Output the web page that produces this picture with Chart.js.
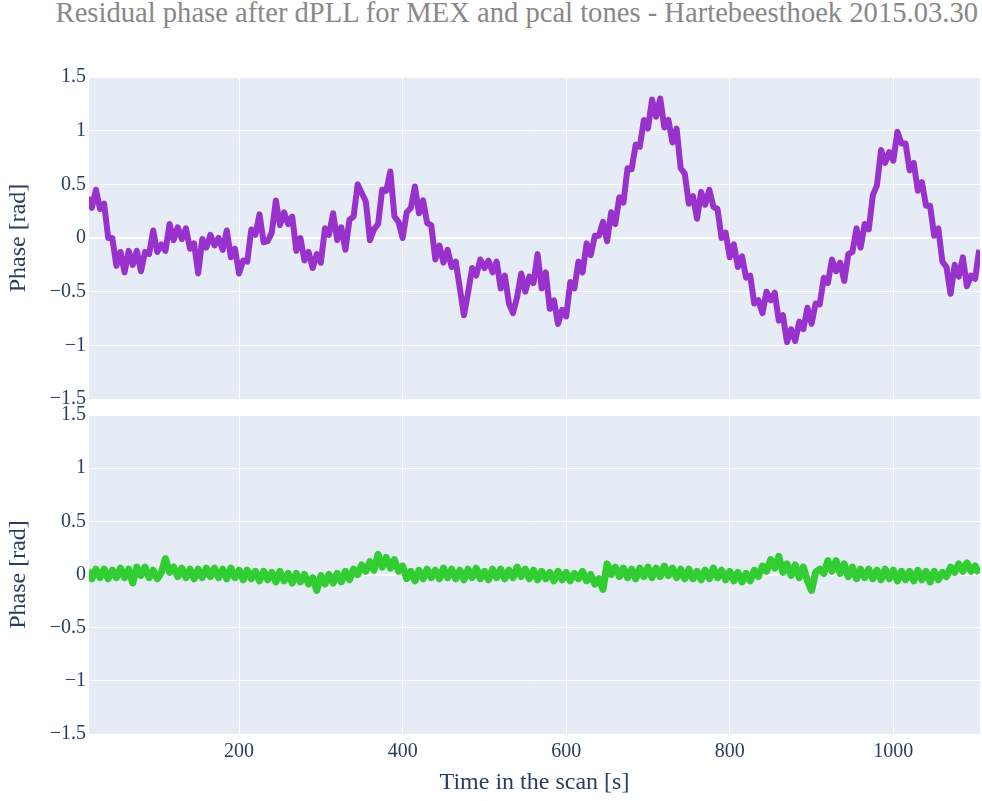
<!DOCTYPE html>
<html>
<head>
<meta charset="utf-8">
<title>Residual phase after dPLL</title>
<script src="https://cdn.jsdelivr.net/npm/chart.js@4.4.1/dist/chart.umd.min.js"></script>
<style>
  html, body { margin: 0; padding: 0; background: #ffffff; }
  body { width: 982px; height: 801px; position: relative; overflow: hidden; font-family: 'Liberation Serif', 'Times New Roman', serif; }
  #chart-title { position: absolute; top: -3px; right: 4px; font-size: 28.6px; line-height: 32px; color: #888888; white-space: nowrap; }
  .panel { position: absolute; left: 0; width: 982px; }
  #panel-top { top: 0; height: 420px; }
  #panel-bottom { top: 400px; height: 401px; }
</style>
</head>
<body>
<div id="chart-title">Residual phase after dPLL for MEX and pcal tones - Hartebeesthoek 2015.03.30</div>
<div class="panel" id="panel-top"><canvas id="chart-mex" width="982" height="420"></canvas></div>
<div class="panel" id="panel-bottom"><canvas id="chart-pcal" width="982" height="401"></canvas></div>
<script>
// sampling of the scan: first sample and spacing, seconds
const timeStart = 15;
const timeStep = 5;

// residual phase of the MEX tone [rad], one value every 5 s
const mexPhase = [
  0.38, 0.28, 0.45, 0.27, 0.32, 0.00, 0.00, -0.26, -0.13, -0.32,
  -0.12, -0.25, -0.12, -0.31, -0.13, -0.15, 0.07, -0.13, -0.06, -0.12,
  0.13, -0.02, 0.10, -0.01, 0.09, -0.10, -0.05, -0.33, -0.01, -0.09,
  0.03, -0.07, 0.00, -0.11, 0.07, -0.18, -0.10, -0.33, -0.21, -0.22,
  0.08, 0.03, 0.22, -0.04, -0.03, 0.05, 0.35, 0.12, 0.24, 0.13,
  0.20, -0.12, 0.00, -0.21, -0.13, -0.28, -0.15, -0.23, 0.09, 0.03,
  0.23, -0.02, 0.10, -0.11, 0.17, 0.20, 0.50, 0.42, 0.34, -0.02,
  0.08, 0.13, 0.45, 0.44, 0.62, 0.20, 0.15, 0.00, 0.24, 0.28,
  0.48, 0.23, 0.35, 0.14, 0.12, -0.20, -0.07, -0.23, -0.11, -0.27,
  -0.22, -0.47, -0.72, -0.51, -0.28, -0.35, -0.20, -0.28, -0.21, -0.32,
  -0.22, -0.47, -0.35, -0.61, -0.70, -0.55, -0.33, -0.50, -0.36, -0.42,
  -0.15, -0.47, -0.32, -0.66, -0.58, -0.80, -0.67, -0.73, -0.41, -0.47,
  -0.22, -0.32, -0.05, -0.16, 0.02, 0.02, 0.15, -0.03, 0.24, 0.13,
  0.38, 0.33, 0.65, 0.64, 0.87, 0.85, 1.10, 1.02, 1.29, 1.13,
  1.30, 1.03, 1.10, 0.89, 1.02, 0.65, 0.60, 0.32, 0.39, 0.18,
  0.43, 0.31, 0.45, 0.29, 0.27, 0.00, 0.05, -0.18, -0.06, -0.27,
  -0.17, -0.37, -0.35, -0.61, -0.58, -0.70, -0.50, -0.58, -0.51, -0.77,
  -0.72, -0.97, -0.85, -0.96, -0.78, -0.85, -0.65, -0.80, -0.61, -0.62,
  -0.37, -0.42, -0.20, -0.31, -0.23, -0.40, -0.15, -0.13, 0.09, -0.09,
  0.13, 0.08, 0.40, 0.49, 0.82, 0.70, 0.80, 0.72, 0.99, 0.88,
  0.88, 0.63, 0.70, 0.44, 0.52, 0.30, 0.30, 0.02, 0.09, -0.22,
  -0.27, -0.52, -0.25, -0.36, -0.18, -0.45, -0.35, -0.38, -0.11
];

// residual phase of the pcal tone [rad], same sampling
const pcalPhase = [
  0.04, -0.04, 0.05, -0.03, 0.05, -0.04, 0.04, -0.03, 0.06, -0.03,
  0.05, -0.08, 0.07, -0.01, 0.07, -0.03, 0.04, -0.04, 0.02, 0.15,
  0.02, 0.07, -0.02, 0.06, -0.03, 0.05, -0.04, 0.05, -0.03, 0.06,
  -0.02, 0.06, -0.03, 0.05, -0.04, 0.06, -0.03, 0.04, -0.05, 0.04,
  -0.04, 0.03, -0.06, 0.03, -0.05, 0.02, -0.07, 0.03, -0.06, 0.01,
  -0.08, 0.01, -0.07, 0.00, -0.09, -0.03, -0.15, -0.01, -0.09, 0.00,
  -0.08, 0.01, -0.07, 0.03, -0.05, 0.05, 0.00, 0.09, 0.03, 0.12,
  0.04, 0.19, 0.07, 0.16, 0.06, 0.14, 0.03, 0.08, -0.04, 0.03,
  -0.06, 0.04, -0.04, 0.05, -0.03, 0.04, -0.04, 0.06, -0.03, 0.05,
  -0.04, 0.04, -0.05, 0.05, -0.03, 0.06, -0.04, 0.03, -0.05, 0.05,
  -0.03, 0.05, -0.04, 0.04, -0.03, 0.07, -0.02, 0.05, -0.04, 0.04,
  -0.05, 0.03, -0.04, 0.02, -0.06, 0.03, -0.05, 0.02, -0.06, 0.01,
  -0.04, 0.03, -0.06, 0.00, -0.09, -0.04, -0.14, 0.10, 0.00, 0.07,
  -0.02, 0.06, -0.03, 0.05, -0.04, 0.06, -0.02, 0.07, -0.03, 0.06,
  -0.02, 0.08, -0.01, 0.06, -0.03, 0.05, -0.04, 0.05, -0.04, 0.03,
  -0.05, 0.04, -0.04, 0.06, -0.03, 0.04, -0.05, 0.03, -0.06, 0.02,
  -0.07, 0.01, -0.06, 0.04, -0.02, 0.08, 0.03, 0.14, 0.06, 0.17,
  0.02, 0.10, -0.01, 0.09, -0.03, 0.07, -0.06, -0.15, 0.02, 0.05,
  0.01, 0.13, 0.03, 0.13, 0.01, 0.10, -0.02, 0.07, -0.04, 0.05,
  -0.03, 0.05, -0.04, 0.04, -0.05, 0.05, -0.04, 0.04, -0.06, 0.03,
  -0.05, 0.03, -0.06, 0.04, -0.05, 0.03, -0.07, 0.03, -0.05, 0.02,
  -0.02, 0.07, 0.02, 0.10, 0.03, 0.11, 0.03, 0.08, 0.01
];

const xRange = [16.5, 1106];
const xTicks = [200, 400, 600, 800, 1000];
const yRange = [-1.5, 1.5];
const yTicks = [-1.5, -1, -0.5, 0, 0.5, 1, 1.5];

const plotBackground = {
  id: 'plotBackground',
  beforeDraw(chart) {
    const { ctx, chartArea } = chart;
    ctx.save();
    ctx.fillStyle = '#e5ecf6';
    ctx.fillRect(chartArea.left, chartArea.top, chartArea.right - chartArea.left, chartArea.bottom - chartArea.top);
    ctx.restore();
  },
};

function toPoints(values) {
  return values.map((value, i) => ({ x: timeStart + i * timeStep, y: value }));
}

function formatTick(value) {
  return String(value).replace('-', '\u2212');
}

function createPanel(canvasId, values, color, lineWidth, showXAxis) {
  const tickFont = { family: "'Liberation Serif', serif", size: 20 };
  const titleFont = { family: "'Liberation Serif', serif", size: 24 };

  return new Chart(document.getElementById(canvasId), {
    type: 'line',
    data: {
      datasets: [{
        data: toPoints(values),
        borderColor: color,
        borderWidth: lineWidth,
        borderJoinStyle: 'round',
        pointRadius: 0,
        tension: 0,
        fill: false,
      }],
    },
    options: {
      responsive: false,
      animation: false,
      events: [],
      layout: {
        padding: showXAxis
          ? { top: 12, bottom: 0, left: 0, right: 2 }
          : { top: 77, bottom: 21, left: 0, right: 2 },
      },
      plugins: { legend: { display: false }, tooltip: { enabled: false } },
      scales: {
        x: {
          type: 'linear',
          min: xRange[0],
          max: xRange[1],
          afterBuildTicks: (scale) => { scale.ticks = xTicks.map((value) => ({ value })); },
          afterFit: (scale) => { scale.height = showXAxis ? 67 : 0; },
          grid: { color: '#ffffff', lineWidth: 1, drawTicks: false },
          border: { display: false },
          ticks: {
            display: showXAxis,
            padding: 6,
            color: '#2a3f5f',
            font: tickFont,
            maxRotation: 0,
            callback: (value) => String(value),
          },
          title: {
            display: showXAxis,
            text: 'Time in the scan [s]',
            color: '#2a3f5f',
            font: titleFont,
            padding: { top: 4, bottom: 4 },
          },
        },
        y: {
          min: yRange[0],
          max: yRange[1],
          afterBuildTicks: (scale) => { scale.ticks = yTicks.map((value) => ({ value })); },
          afterFit: (scale) => { scale.width = 89; },
          grid: {
            color: '#ffffff',
            lineWidth: (ctx) => (ctx.tick && ctx.tick.value === 0 ? 2 : 1),
            drawTicks: false,
          },
          border: { display: false },
          ticks: {
            padding: 3,
            color: '#2a3f5f',
            font: tickFont,
            callback: formatTick,
          },
          title: {
            display: true,
            text: 'Phase [rad]',
            color: '#2a3f5f',
            font: titleFont,
            padding: { top: 4, bottom: 4 },
          },
        },
      },
    },
    plugins: [plotBackground],
  });
}

createPanel('chart-mex', mexPhase, '#9932cc', 6, false);
createPanel('chart-pcal', pcalPhase, '#32cd32', 7, true);
</script>
</body>
</html>
